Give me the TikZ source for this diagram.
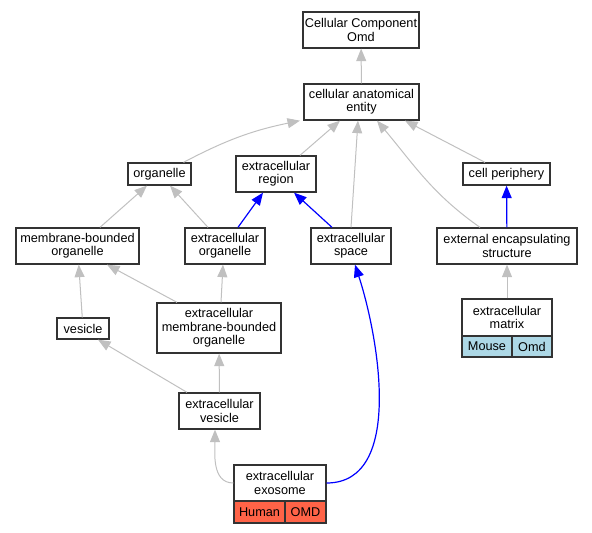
\documentclass[tikz,border=0pt]{standalone}
\usepackage{fontspec}
\setmainfont{Liberation Sans}
\usepackage{tikz}
\usepackage{xcolor}
\usetikzlibrary{arrows.meta, calc, positioning}

\definecolor{isagray}{HTML}{C0C0C0}
\definecolor{partblue}{HTML}{0000FF}
\definecolor{mousecell}{HTML}{ADD8E6}
\definecolor{humancell}{HTML}{FF6347}

\begin{document}
\begin{tikzpicture}[x=1pt, y=1pt,
    term/.style={draw=black!80, line width=1.3pt, fill=white, inner sep=0pt, align=center,
                 minimum height=36pt, font=\fontsize{12.7}{13.4}\selectfont},
    isa/.style={draw=isagray, line width=1pt, -{Triangle[length=12.5pt, width=10pt]}},
    partof/.style={draw=partblue, line width=1.2pt, -{Triangle[length=12.5pt, width=10pt]}}]

    \useasboundingbox (0,0) rectangle (592,-533);

    \node[term, minimum width=116pt] (cco) at (361, -30) {Cellular Component\\Omd};
    \node[term, minimum width=115pt] (cae) at (361.5, -102) {cellular anatomical\\entity};
    \node[term, minimum width=63pt, minimum height=22pt] (org) at (159.5, -174) {organelle};
    \node[term, minimum width=80pt] (ereg) at (276, -174) {extracellular\\region};
    \node[term, minimum width=87pt, minimum height=22pt] (cper) at (506.5, -174) {cell periphery};
    \node[term, minimum width=123pt] (mbo) at (77.5, -246) {membrane-bounded\\organelle};
    \node[term, minimum width=80pt] (eorg) at (225, -246) {extracellular\\organelle};
    \node[term, minimum width=80pt] (espace) at (351, -246) {extracellular\\space};
    \node[term, minimum width=140pt] (ees) at (507, -246) {external encapsulating\\structure};
    \node[term, minimum width=52pt, minimum height=21pt] (ves) at (83, -328.5) {vesicle};
    \node[term, minimum width=124pt, minimum height=50pt] (embo) at (219, -328) {extracellular\\membrane-bounded\\organelle};
    \node[term, minimum width=81pt] (ev) at (219.5, -411) {extracellular\\vesicle};

    \node[term, minimum width=90pt, minimum height=37pt] (em) at (507, -317.5) {extracellular\\matrix};
    \node[term, fill=mousecell, minimum width=50pt, minimum height=21pt] (emMouse) at (487, -346.5) {Mouse};
    \node[term, fill=mousecell, minimum width=40pt, minimum height=21pt] (emOmd) at (532, -346.5) {Omd};

    \node[term, minimum width=92pt] (exo) at (280, -483) {extracellular\\exosome};
    \node[term, fill=humancell, minimum width=51pt, minimum height=22pt] (exoHuman) at (259.5, -512) {Human};
    \node[term, fill=humancell, minimum width=41pt, minimum height=22pt] (exoOMD) at (305.5, -512) {OMD};

    % is_a
    \draw (cae) edge[isa] (cco);
    \draw ([xshift=24pt]org.north) edge[isa, bend left=8] ([xshift=-61.5pt]cae.south);
    \draw ([xshift=24pt]ereg.north) edge[isa] ([xshift=-21.5pt]cae.south);
    \draw (espace.north) edge[isa] ([xshift=-3.5pt]cae.south);
    \draw ([xshift=-27pt]ees.north) edge[isa, out=145, in=-50] ([xshift=15.5pt]cae.south);
    \draw ([xshift=-21.5pt]cper.north) edge[isa] ([xshift=43.5pt]cae.south);
    \draw ([xshift=22.5pt]mbo.north) edge[isa] ([xshift=-12.5pt]org.south);
    \draw ([xshift=-17pt]eorg.north) edge[isa] ([xshift=10.5pt]org.south);
    \draw (ves) edge[isa] (mbo);
    \draw ([xshift=-42pt]embo.north) edge[isa] ([xshift=29.5pt]mbo.south);
    \draw ([xshift=2pt]embo.north) edge[isa] ([xshift=-2pt]eorg.south);
    \draw ([xshift=-32.5pt]ev.north) edge[isa] ([xshift=15pt]ves.south);
    \draw (ev) edge[isa] (embo);
    \draw (em) edge[isa] (ees);
    \draw (exo.west) edge[isa, out=180, in=-90] ([xshift=-4.5pt]ev.south);

    % part_of
    \draw ([xshift=13pt]eorg.north) edge[partof] ([xshift=-13pt]ereg.south);
    \draw ([xshift=-19pt]espace.north) edge[partof] ([xshift=18pt]ereg.south);
    \draw (ees) edge[partof] (cper);
    \draw[partof] (exo.east) .. controls (405,-483) and (378,-335) .. ([xshift=4pt]espace.south);
\end{tikzpicture}
\end{document}
